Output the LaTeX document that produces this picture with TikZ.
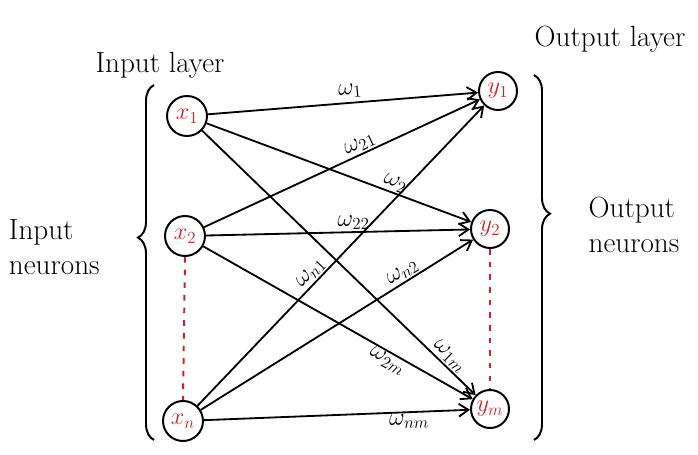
\documentclass[tikz,border=0pt]{standalone}
\usepackage{amsmath,amssymb}
\usepackage{xcolor}
\usepackage{tikz}
\usetikzlibrary{positioning,calc,arrows.meta,decorations.pathreplacing}

\definecolor{inkred}{RGB}{200,35,40}

\begin{document}
\begin{tikzpicture}[
  neuron/.style={draw, circle, line width=1.4pt, minimum size=1cm, inner sep=0pt, text=inkred, font=\LARGE},
  wire/.style={line width=1.3pt, -{Straight Barb[length=2.4mm, width=3.2mm]}},
  wlab/.style={font=\LARGE, sloped, inner sep=1pt},
  dots/.style={inkred, line width=1.4pt, dash pattern=on 4pt off 5pt},
  bracket/.style={line width=1.4pt, decorate, decoration={brace, amplitude=0.4cm}}
]
  \useasboundingbox (0,0) rectangle (17.45,11.375);

  % Input neurons
  \node[neuron] (x1) at (4.675, 8.475) {$x_1$};
  \node[neuron] (x2) at (4.625, 5.475) {$x_2$};
  \node[neuron] (xn) at (4.575, 0.85) {$x_n$};

  % Output neurons
  \node[neuron, minimum size=0.95cm] (y1) at (12.45, 9.1) {$y_1$};
  \node[neuron, minimum size=0.95cm] (y2) at (12.25, 5.65) {$y_2$};
  \node[neuron, minimum size=0.95cm] (ym) at (12.25, 1.15) {$y_m$};

  % Dotted continuation
  \draw[dots] (x2.south) -- (xn.north);
  \draw[dots] (y2.south) -- (ym.north);

  % Weights
  \draw[wire] (x1) -- (y1) node[wlab, pos=0.53, above=2pt] {$\omega_1$};
  \draw[wire] (x1) -- (y2) node[wlab, pos=0.7, above] {$\omega_2$};
  \draw[wire] (x1) -- (ym) node[wlab, pos=0.88, above] {$\omega_{1m}$};
  \draw[wire] (x2) -- (y1) node[wlab, pos=0.58, above] {$\omega_{21}$};
  \draw[wire] (x2) -- (y2) node[wlab, pos=0.56, above] {$\omega_{22}$};
  \draw[wire] (x2) -- (ym) node[wlab, pos=0.7, below] {$\omega_{2m}$};
  \draw[wire] (xn) -- (y1) node[wlab, pos=0.42, above] {$\omega_{n1}$};
  \draw[wire] (xn) -- (y2) node[wlab, pos=0.76, above] {$\omega_{n2}$};
  \draw[wire] (xn) -- (ym) node[wlab, pos=0.77, below] {$\omega_{nm}$};

  % Braces
  \coordinate (lbtop) at (3.85, 9.25);
  \coordinate (lbbot) at (3.85, 0.375);
  \coordinate (rbtop) at (13.35, 9.5);
  \coordinate (rbbot) at (13.35, 0.375);
  \draw[bracket, decoration={aspect=0.57}] (lbbot) -- (lbtop);
  \draw[bracket, decoration={aspect=0.38}] (rbtop) -- (rbbot);

  % Layer names
  \node[font=\huge] (inlayer) at (4.0, 9.75) {Input layer};
  \node[font=\huge] (outlayer) at (15.25, 10.4) {Output layer};
  \node[font=\huge, align=left, anchor=west] (inneur) at (0.1, 5.2) {Input\\neurons};
  \node[font=\huge, align=left] (outneur) at (15.85, 5.75) {Output\\neurons};
\end{tikzpicture}
\end{document}
